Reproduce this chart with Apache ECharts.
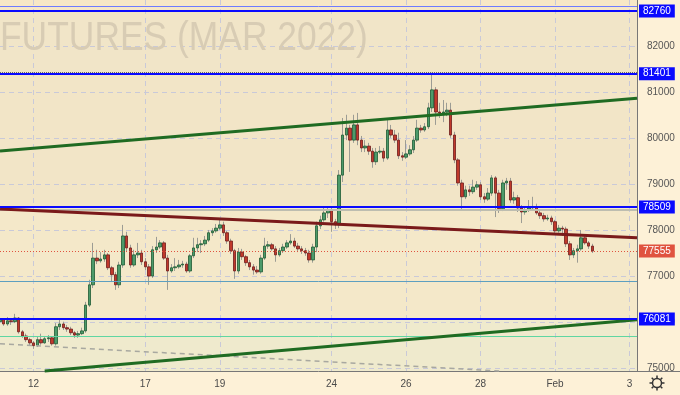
<!DOCTYPE html>
<html><head><meta charset="utf-8">
<script src="https://cdn.jsdelivr.net/npm/echarts@6/dist/echarts.min.js"></script>
<style>html,body{margin:0;padding:0;background:#fdf1d7}#c{width:680px;height:395px}</style>
</head><body><div id="c"></div>
<script>
// ---- time axis ----
const sessions = ['11','12','13','14','17','18','19','20','21','24','25','26','27','28','31','Feb','2','3'];
const barsPerSession = 10;
const firstSessionBars = 9;
const slotCount = 172;
const tickDays = ['12','17','19','24','26','28','Feb','3'];

// ---- candles (price) ----
const opens = [
76020,76080,75970,76040,76020,76100,75800,75710,75630,
75560,75500,75630,75560,75650,75670,75540,75910,75970,75890,
75860,75780,75730,75760,75820,76380,76820,77400,77340,77380,
77470,77190,77040,76820,77250,77880,77620,77250,77470,77510,
77320,77210,77010,77580,77640,77730,77400,77120,77190,77210,
77250,77270,77120,77450,77620,77690,77710,77790,77950,77990,
78050,78120,77950,77770,77560,77120,77530,77430,77300,77210,
77140,77100,77400,77660,77690,77600,77470,77560,77640,77730,
77770,77660,77600,77560,77510,77360,77640,78100,78230,78380,
78450,78190,78120,79200,80070,80220,79960,80290,79960,79790,
79830,79720,79490,79700,79720,79570,80180,80070,79960,79620,
79590,79660,79750,79960,80220,80180,80250,80660,81050,80570,
80550,80570,80610,80070,79530,79030,78730,78880,78840,78940,
78990,78730,78680,78810,79140,78810,78470,79030,79070,78660,
78710,78490,78400,78450,78490,78510,78380,78320,78250,78270,
78190,77990,78050,78030,77710,77470,77560,77600,77840,77730,
77660];
const closes = [
76080,75970,76040,76020,76100,75800,75710,75630,75560,
75500,75630,75560,75650,75670,75540,75910,75970,75890,75860,
75780,75730,75760,75820,76380,76820,77400,77340,77380,77470,
77190,77040,76820,77250,77880,77620,77250,77470,77510,77320,
77210,77010,77580,77640,77730,77400,77120,77190,77210,77250,
77270,77120,77450,77620,77690,77710,77790,77950,77990,78050,
78120,77950,77770,77560,77120,77530,77430,77300,77210,77140,
77100,77400,77660,77690,77600,77470,77560,77640,77730,77770,
77660,77600,77560,77510,77360,77640,78100,78230,78380,78450,
78190,78120,79200,80070,80220,79960,80290,79960,79790,79830,
79720,79490,79700,79720,79570,80180,80070,79960,79620,79590,
79660,79750,79960,80220,80180,80250,80660,81050,80570,80550,
80570,80610,80070,79530,79030,78730,78880,78840,78940,78990,
78730,78680,78810,79140,78810,78470,79030,79070,78660,78710,
78490,78400,78450,78490,78510,78380,78320,78250,78270,78190,
77990,78050,78030,77710,77470,77560,77600,77840,77730,77660,
77555];
const lows = [
75950,75930,75930,75950,75990,75760,75670,75580,75500,
75430,75470,75520,75540,75580,75500,75500,75840,75840,75800,
75730,75670,75670,75730,75780,76340,76750,77270,77300,77320,
77140,76880,76710,76750,77190,77530,77190,77210,77400,77250,
77140,76820,76970,77510,77600,77360,76710,77080,77120,77170,
77190,77080,77080,77400,77530,77510,77660,77750,77880,77950,
78010,77880,77710,77490,76950,77060,77360,77230,77140,77040,
77060,77060,77360,77600,77560,77320,77430,77510,77600,77690,
77620,77530,77490,77450,77300,77300,77530,78030,78190,78270,
77970,78030,78050,79050,79960,79270,79900,79850,79700,79700,
79640,79360,79420,79660,79490,79530,80010,79900,79550,79510,
79550,79620,79680,79920,80120,80140,80200,80570,80290,80440,
80350,80480,80010,79460,78970,78450,78680,78750,78790,78880,
78660,78600,78640,78750,78290,78380,78420,78880,78600,78580,
78400,78160,78340,78400,78450,78340,78250,78190,78210,78120,
77920,77950,77880,77640,77360,77400,77300,77560,77690,77600,
77510];
const highs = [
76150,76100,76120,76100,76190,76120,75840,75760,75670,
75600,75690,75760,75710,75730,75690,75990,76060,76020,75950,
75910,75820,75820,75890,76450,76930,77730,77580,77530,77580,
77510,77230,77100,77320,78120,77970,77690,77580,77730,77580,
77400,77270,77660,77860,77790,77770,77470,77270,77400,77360,
77340,77320,77490,77840,77840,77790,77880,78010,78050,78140,
78250,78190,77990,77820,77600,77620,77600,77470,77360,77270,
77230,77470,77840,77770,77730,77660,77620,77710,77790,77920,
77840,77730,77660,77620,77580,77710,78190,78320,78510,78530,
78490,78250,79310,80440,80510,80290,80510,80550,80050,79960,
79900,79790,79790,79830,79790,80400,80290,80180,80120,79700,
79960,79850,80050,80400,80290,80330,80770,81420,81110,80770,
80830,80770,80770,80140,79570,79100,78970,78970,79100,79070,
79050,78810,78920,79200,79180,78880,79100,79140,79140,78840,
78770,78550,78530,78660,78730,78580,78450,78380,78340,78320,
78230,78120,78100,78080,77770,77620,77690,78010,77900,77770,
77710];

// ---- levels and drawn lines ----
const boxedLevels = [82760, 81401, 78509, 76081];
const lastPrice = 77555;
const thinTopLevel = 82870;
const dottedLevel = 81440;
const greyLevel = 78450;
const steelLevel = 76905;
const mintLevel = 75710;
const trendUpper = [[0, 79725], [171, 80870]];
const trendMid = [[0, 78466], [171, 77840]];
const trendLower = [[12, 74950], [171, 76060]];
const trendDashed = [[0, 75540], [134, 74950]];
const yTicks = [75000, 76000, 77000, 78000, 79000, 80000, 81000, 82000];
const yMin = 74950, yMax = 83000;

// ---- build ----
const categories = [];
sessions.forEach((d, si) => {
  const n = si === 0 ? firstSessionBars : barsPerSession;
  for (let k = 0; k < n; k++) if (categories.length < slotCount) categories.push(d + '|' + (si === 0 ? k + 1 : k));
});
const isTick = (v) => { const p = v.split('|'); return p[1] === '0' && tickDays.includes(p[0]); };
const wickData = opens.map((o, i) => [o, closes[i], lows[i], highs[i]]);
const bodyData = opens.map((o, i) => [o, closes[i], Math.min(o, closes[i]), Math.max(o, closes[i])]);

const BLUE = '#0a0aff';
const boxLabel = (bg) => ({show: true, position: 'end', distance: 2, formatter: '{c}', color: '#fff',
  backgroundColor: bg, padding: [2, 4, 1, 4], fontSize: 10, fontFamily: 'Liberation Sans'});
const noLabel = {show: false};
const seg = (pts, style) => [{coord: pts[0], lineStyle: style, label: noLabel}, {coord: pts[1]}];

const lines = [
  {yAxis: thinTopLevel, lineStyle: {color: '#6f7cff', width: 1, type: 'solid'}, label: noLabel},
  {yAxis: dottedLevel, lineStyle: {color: '#666', width: 1, type: [1, 1]}, label: noLabel},
  {yAxis: greyLevel, lineStyle: {color: '#bdbdb0', width: 2, type: 'solid'}, label: noLabel},
  {yAxis: steelLevel, lineStyle: {color: '#5d9fc0', width: 1, type: 'solid'}, label: noLabel},
  {yAxis: mintLevel, lineStyle: {color: '#5fd6a2', width: 1, type: 'solid'}, label: noLabel},
  {yAxis: lastPrice, lineStyle: {color: '#e0533f', width: 1, type: [1, 2]}, label: boxLabel('#e0533f')},
  seg(trendDashed, {color: '#a8a8a0', width: 1.5, type: [5, 4]}),
  seg(trendUpper, {color: '#1f6b22', width: 3, type: 'solid'}),
  seg(trendMid, {color: '#7a1a1a', width: 3, type: 'solid'}),
  seg(trendLower, {color: '#1f6b22', width: 3, type: 'solid'}),
].concat(boxedLevels.map(v => ({yAxis: v, lineStyle: {color: BLUE, width: 2, type: 'solid'}, label: boxLabel(BLUE)})));

const bands = [
  [{yAxis: 82760, itemStyle: {color: '#f7e8c6'}}, {yAxis: yMax}],
  [{yAxis: 81401, itemStyle: {color: '#f1e5c8'}}, {yAxis: 82760}],
  [{yAxis: 78509, itemStyle: {color: '#f2e5c7'}}, {yAxis: 81401}],
  [{yAxis: 76081, itemStyle: {color: '#f4e8c9'}}, {yAxis: 78509}],
  [{yAxis: yMin, itemStyle: {color: '#efeacd'}}, {yAxis: 76081}],
];

const chart = echarts.init(document.getElementById('c'), null, {renderer: 'canvas'});
const gear = [];
for (let a = 0; a < 8; a++) {
  const t = a * Math.PI / 4;
  gear.push({type: 'line', shape: {x1: 657 + Math.cos(t) * 5, y1: 383 + Math.sin(t) * 5, x2: 657 + Math.cos(t) * 7.5, y2: 383 + Math.sin(t) * 7.5},
    style: {stroke: '#333', lineWidth: 1.5}});
}
const GRID = {color: '#c9c9d8', width: 1, type: [5, 4]};
chart.setOption({
  animation: false,
  backgroundColor: '#fdf1d7',
  textStyle: {fontFamily: 'Liberation Sans'},
  grid: {left: 0, right: 43, top: 0, bottom: 24, containLabel: false},
  xAxis: {
    type: 'category', data: categories, boundaryGap: false, z: 1,
    axisLine: {show: true, lineStyle: {color: '#777'}},
    axisTick: {show: false},
    axisLabel: {interval: (i, v) => isTick(v), formatter: v => v.split('|')[0], color: '#4a4a4a', fontSize: 10, margin: 8},
    splitLine: {show: true, interval: (i, v) => isTick(v), lineStyle: GRID}
  },
  yAxis: {
    type: 'value', position: 'right', min: yMin, max: yMax, scale: true, z: 1,
    axisLine: {show: true, lineStyle: {color: '#777'}},
    axisTick: {show: false, customValues: yTicks},
    axisLabel: {customValues: yTicks, color: '#555', fontSize: 10, margin: 10, formatter: v => String(v)},
    splitLine: {show: true, lineStyle: GRID}
  },
  graphic: [
    {type: 'text', z: 100, left: 0, top: 19, silent: true, scaleX: 0.885,
     style: {text: 'FUTURES (MAR 2022)', font: '40px "Liberation Sans"', fill: '#d8ccb4'}},
    {type: 'line', z: 10, shape: {x1: 637, y1: 371.5, x2: 680, y2: 371.5}, style: {stroke: '#777', lineWidth: 1}},
    {type: 'circle', z: 10, shape: {cx: 657, cy: 383, r: 4.5}, style: {fill: 'none', stroke: '#333', lineWidth: 1.5}},
  ].concat(gear.map(g => Object.assign({z: 10}, g))),
  series: [
    {type: 'line', data: [], z: 0, silent: true, markArea: {z: -1, silent: true, data: bands}},
    {type: 'candlestick', name: 'wick', data: wickData, z: 2, barWidth: 1, silent: true,
     itemStyle: {color: '#9c9c94', color0: '#9c9c94', borderColor: '#9c9c94', borderColor0: '#9c9c94', borderWidth: 1}},
    {type: 'candlestick', name: 'body', data: bodyData, z: 3, barWidth: 3, silent: true,
     itemStyle: {color: '#4c9a6a', color0: '#c0392b', borderColor: '#1e5b34', borderColor0: '#6e1c1c', borderWidth: 0.8}},
    {type: 'line', data: [], z: 5, silent: true, markLine: {symbol: 'none', silent: true, animation: false, data: lines}}
  ]
});
</script></body></html>
